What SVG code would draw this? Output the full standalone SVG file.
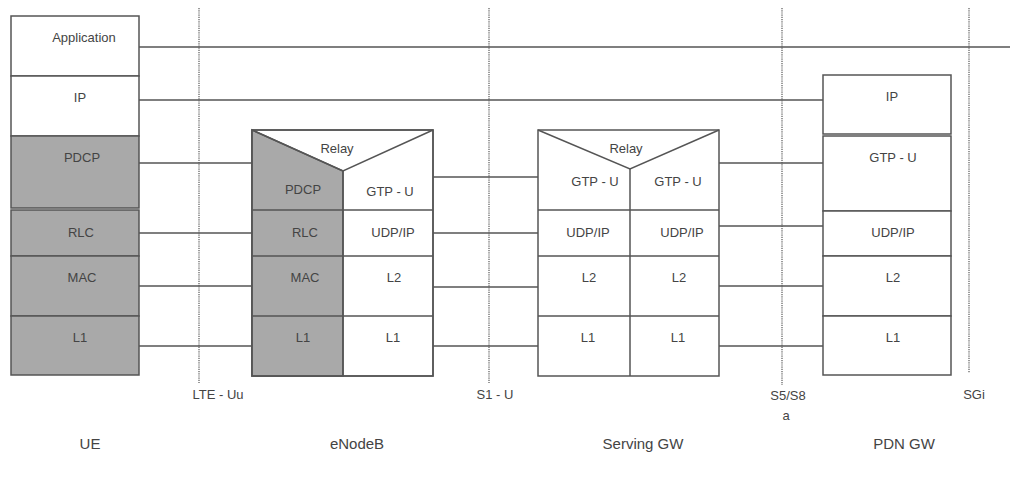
<svg xmlns="http://www.w3.org/2000/svg" width="1020" height="486" viewBox="0 0 1020 486">
<style>
.box{fill:#fff;stroke:#555;stroke-width:1.5}
.g{fill:#a9a9a9;stroke:#555;stroke-width:1.5}
.ln{stroke:#555;stroke-width:1.5;fill:none}
.dash{stroke:#9a9a9a;stroke-width:2;stroke-dasharray:1.2 1;fill:none}
text{font-family:"Liberation Sans",Arial,sans-serif;font-size:13px;fill:#444;text-anchor:middle;dominant-baseline:central}
.big{font-size:15px}
</style>
<rect width="1020" height="486" fill="#fff"/>
<g id="interfaces">
<line class="dash" x1="199" y1="8" x2="199" y2="383"/>
<line class="dash" x1="489" y1="8" x2="489" y2="383"/>
<line class="dash" x1="782" y1="8" x2="782" y2="385"/>
<line class="dash" x1="969" y1="8" x2="969" y2="373"/>
<text x="218" y="394">LTE - Uu</text>
<text x="495" y="394">S1 - U</text>
<text x="788" y="395">S5/S8</text>
<text x="786" y="415">a</text>
<text x="974" y="394">SGi</text>
</g>
<g id="connectors">
<line class="ln" x1="139" y1="47" x2="1010" y2="47"/>
<line class="ln" x1="139" y1="100" x2="823" y2="100"/>
<line class="ln" x1="139" y1="163" x2="252" y2="163"/>
<line class="ln" x1="139" y1="233" x2="252" y2="233"/>
<line class="ln" x1="139" y1="286" x2="252" y2="286"/>
<line class="ln" x1="139" y1="346" x2="252" y2="346"/>
<line class="ln" x1="433" y1="177" x2="538" y2="177"/>
<line class="ln" x1="433" y1="233" x2="538" y2="233"/>
<line class="ln" x1="433" y1="287" x2="538" y2="287"/>
<line class="ln" x1="433" y1="346" x2="538" y2="346"/>
<line class="ln" x1="719" y1="163" x2="823" y2="163"/>
<line class="ln" x1="719" y1="226" x2="823" y2="226"/>
<line class="ln" x1="719" y1="286" x2="823" y2="286"/>
<line class="ln" x1="719" y1="346" x2="823" y2="346"/>
</g>
<g id="ue">
<rect class="box" x="11" y="16" width="128" height="60"/>
<rect class="box" x="11" y="76" width="128" height="60"/>
<rect class="g" x="11" y="136" width="128" height="72"/>
<rect class="g" x="11" y="210" width="128" height="46"/>
<rect class="g" x="11" y="256" width="128" height="60"/>
<rect class="g" x="11" y="316" width="128" height="59"/>
<text x="84" y="37">Application</text>
<text x="80" y="97">IP</text>
<text x="82" y="157">PDCP</text>
<text x="81" y="232">RLC</text>
<text x="82" y="277">MAC</text>
<text x="80" y="337">L1</text>
<text class="big" x="90" y="443">UE</text>
</g>
<g id="enodeb">
<rect class="box" x="252" y="130" width="181" height="246"/>
<polygon class="g" points="252,130 343,171 343,376 252,376"/>
<polyline class="ln" points="252,130 343,171 433,130"/>
<line class="ln" x1="343" y1="171" x2="343" y2="376"/>
<line class="ln" x1="252" y1="210" x2="433" y2="210"/>
<line class="ln" x1="252" y1="256" x2="433" y2="256"/>
<line class="ln" x1="252" y1="316" x2="433" y2="316"/>
<rect class="ln" x="252" y="130" width="181" height="246"/>
<text x="337" y="148">Relay</text>
<text x="303" y="189">PDCP</text>
<text x="390" y="191">GTP - U</text>
<text x="305" y="232">RLC</text>
<text x="393" y="232">UDP/IP</text>
<text x="305" y="277">MAC</text>
<text x="394" y="277">L2</text>
<text x="303" y="337">L1</text>
<text x="393" y="337">L1</text>
<text class="big" x="357" y="443">eNodeB</text>
</g>
<g id="serving-gw">
<rect class="box" x="538" y="130" width="181" height="246"/>
<polyline class="ln" points="538,130 630,169 719,130"/>
<line class="ln" x1="630" y1="169" x2="630" y2="376"/>
<line class="ln" x1="538" y1="210" x2="719" y2="210"/>
<line class="ln" x1="538" y1="256" x2="719" y2="256"/>
<line class="ln" x1="538" y1="316" x2="719" y2="316"/>
<text x="626" y="148">Relay</text>
<text x="595" y="181">GTP - U</text>
<text x="678" y="181">GTP - U</text>
<text x="588" y="232">UDP/IP</text>
<text x="682" y="232">UDP/IP</text>
<text x="589" y="277">L2</text>
<text x="679" y="277">L2</text>
<text x="588" y="337">L1</text>
<text x="678" y="337">L1</text>
<text class="big" x="643" y="443">Serving GW</text>
</g>
<g id="pdn-gw">
<rect class="box" x="823" y="75" width="128" height="59"/>
<rect class="box" x="823" y="136" width="128" height="75"/>
<rect class="box" x="823" y="211" width="128" height="45"/>
<rect class="box" x="823" y="256" width="128" height="60"/>
<rect class="box" x="823" y="316" width="128" height="59"/>
<text x="892" y="96">IP</text>
<text x="893" y="157">GTP - U</text>
<text x="893" y="232">UDP/IP</text>
<text x="893" y="277">L2</text>
<text x="893" y="337">L1</text>
<text class="big" x="904" y="443">PDN GW</text>
</g>
</svg>
